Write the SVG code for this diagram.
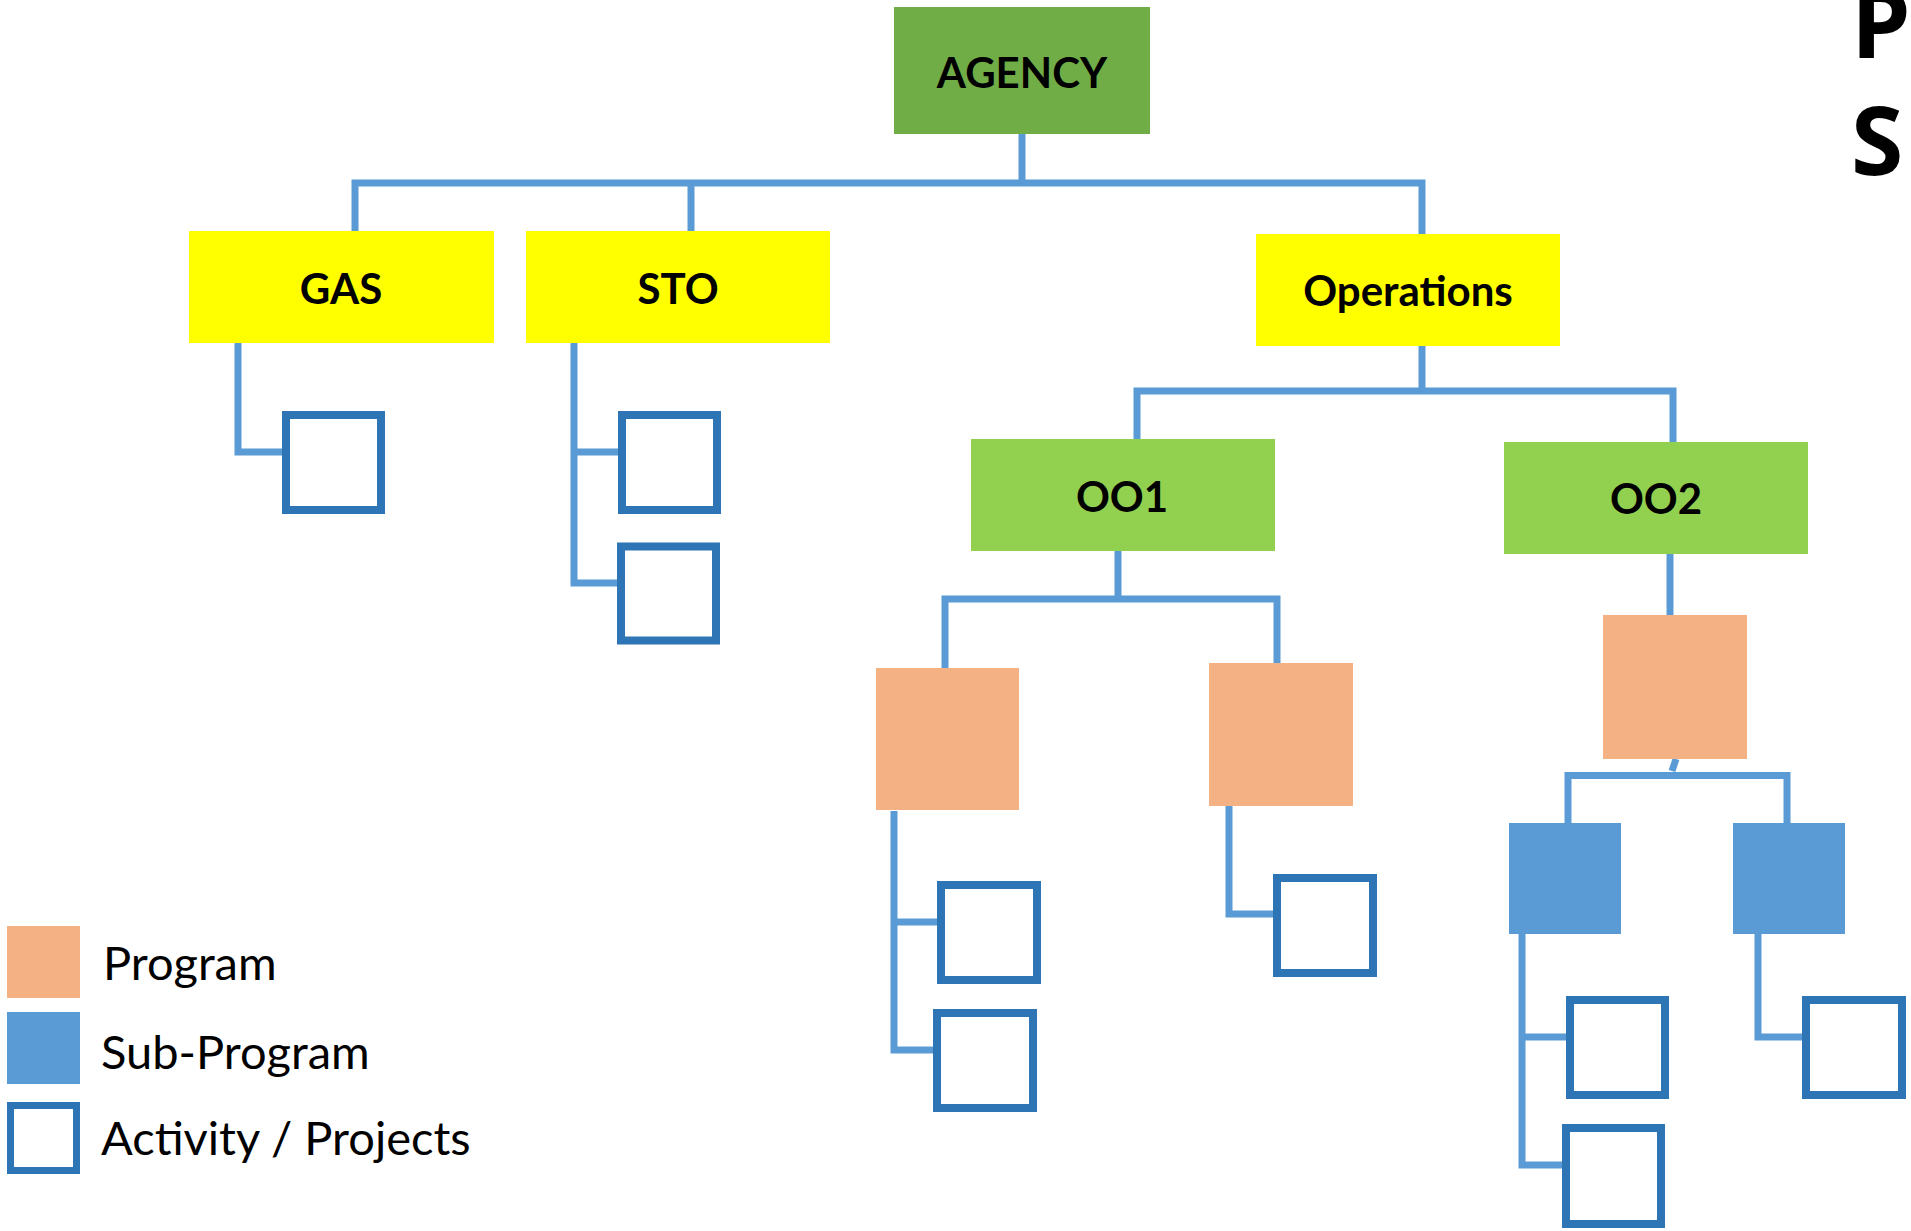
<svg xmlns="http://www.w3.org/2000/svg" width="1911" height="1231" viewBox="0 0 1911 1231">
<style>
.lbl{font-family:Lato,"Open Sans","Liberation Sans",sans-serif;font-weight:700;font-size:42px;fill:#000;text-anchor:middle}
.leg{font-family:Lato,"Open Sans","Liberation Sans",sans-serif;font-weight:400;font-size:47px;fill:#000}
.head{font-family:"Open Sans","DejaVu Sans",sans-serif;font-weight:700;font-size:95px;fill:#000}
.conn{fill:none;stroke:#5B9BD5;stroke-width:7;stroke-linejoin:miter}
.agency{fill:#70AD47}
.unit{fill:#FFFF00}
.oo{fill:#92D050}
.prog{fill:#F4B183}
.sub{fill:#5B9BD5}
.act{fill:#fff;stroke:#2E75B6;stroke-width:8}
</style>
<rect width="1911" height="1231" fill="#fff"/>
<g id="connectors">
<path class="conn" d="M1022,134 V183"/>
<path class="conn" d="M355,231 V183 H1422 V234"/>
<path class="conn" d="M691,183 V231"/>
<path class="conn" d="M238,343 V452 H286"/>
<path class="conn" d="M574,343 V583 H621 M574,452 H622"/>
<path class="conn" d="M1422,346 V391"/>
<path class="conn" d="M1137,439 V391 H1673 V442"/>
<path class="conn" d="M1118,551 V599"/>
<path class="conn" d="M945,668 V599 H1277 V663"/>
<path class="conn" d="M894,811 V1050 H937 M894,922 H941"/>
<path class="conn" d="M1229,806 V914 H1277"/>
<path class="conn" d="M1670,554 V615"/>
<path class="conn" d="M1676,759 L1672,771"/>
<path class="conn" d="M1568,823 V775.5 H1787 V823"/>
<path class="conn" d="M1522,934 V1165 H1566 M1522,1037 H1570"/>
<path class="conn" d="M1758,934 V1037 H1806"/>
</g>
<g id="agency"><rect class="agency" x="894" y="7" width="256" height="127"/><text class="lbl" x="1022" y="88">AGENCY</text></g>
<g id="gas"><rect class="unit" x="189" y="231" width="305" height="112"/><text class="lbl" x="341" y="304">GAS</text></g>
<g id="sto"><rect class="unit" x="526" y="231" width="304" height="112"/><text class="lbl" x="678" y="304">STO</text></g>
<g id="operations"><rect class="unit" x="1256" y="234" width="304" height="112"/><text class="lbl" x="1408" y="306">Operations</text></g>
<g id="oo1"><rect class="oo" x="971" y="439" width="304" height="112"/><text class="lbl" x="1122" y="512">OO1</text></g>
<g id="oo2"><rect class="oo" x="1504" y="442" width="304" height="112"/><text class="lbl" x="1656" y="514">OO2</text></g>
<g id="program1"><rect class="prog" x="876" y="668" width="143" height="142"/></g>
<g id="program2"><rect class="prog" x="1209" y="663" width="144" height="143"/></g>
<g id="program3"><rect class="prog" x="1603" y="615" width="144" height="144"/></g>
<g id="subprogram1"><rect class="sub" x="1509" y="823" width="112" height="111"/></g>
<g id="subprogram2"><rect class="sub" x="1733" y="823" width="112" height="111"/></g>
<g id="activity-gas"><rect class="act" x="286" y="415" width="95" height="95"/></g>
<g id="activity-sto1"><rect class="act" x="622" y="415" width="95" height="95"/></g>
<g id="activity-sto2"><rect class="act" x="621" y="546.5" width="95" height="94"/></g>
<g id="activity-p1a"><rect class="act" x="941" y="885" width="96" height="95"/></g>
<g id="activity-p1b"><rect class="act" x="937" y="1013" width="96" height="95"/></g>
<g id="activity-p2"><rect class="act" x="1277" y="878" width="96" height="95"/></g>
<g id="activity-s1a"><rect class="act" x="1570" y="1000" width="95" height="95"/></g>
<g id="activity-s1b"><rect class="act" x="1566" y="1128" width="95" height="96"/></g>
<g id="activity-s2"><rect class="act" x="1806" y="1000" width="96" height="95"/></g>
<g id="legend">
<rect class="prog" x="7" y="926" width="73" height="72"/>
<rect class="sub" x="7" y="1012" width="73" height="72"/>
<rect class="act" x="10.5" y="1105.5" width="66" height="65" style="stroke-width:7"/>
<text class="leg" x="103" y="980">Program</text>
<text class="leg" x="101" y="1069">Sub-Program</text>
<text class="leg" x="101" y="1155">Activity / Projects</text>
</g>
<g id="heading">
<text class="head" x="1851" y="58">P</text>
<text class="head" x="1851" y="175">S</text>
</g>
</svg>
